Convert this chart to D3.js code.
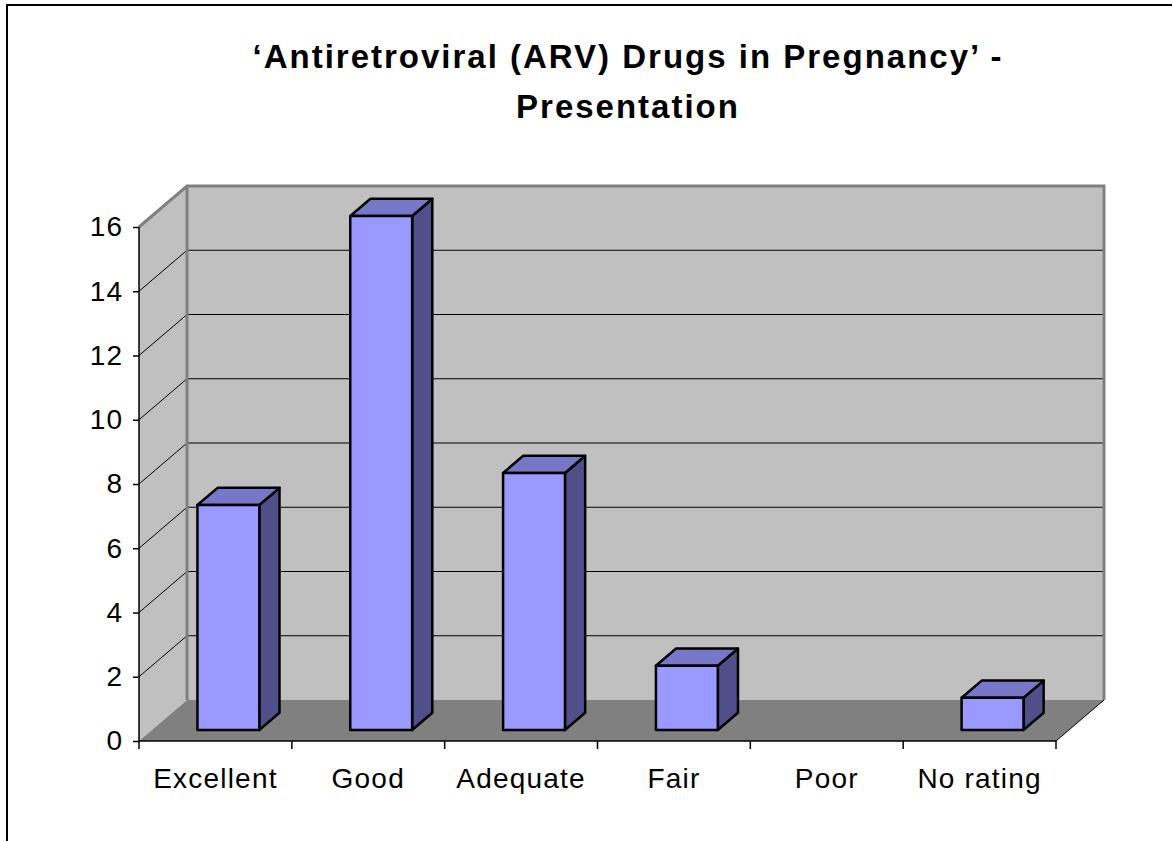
<!DOCTYPE html>
<html>
<head>
<meta charset="utf-8">
<script src="https://cdn.jsdelivr.net/npm/d3@7"></script>
<style>
  body { margin: 0; background: #fff; }
  text { font-family: Arial, "Liberation Sans", sans-serif; }
</style>
</head>
<body>
<div id="canvas"></div>
<script>
var categories = ['Excellent', 'Good', 'Adequate', 'Fair', 'Poor', 'No rating']
var counts = [7, 16, 8, 2, 0, 1]
var yTicks = [0, 2, 4, 6, 8, 10, 12, 14, 16]
var titleLines = ['\u2018Antiretroviral (ARV) Drugs in Pregnancy\u2019 -', 'Presentation']

var W = 1172, H = 841
var depth = {dx: 48, dy: -41}
var barZ = [0.27, 0.69]
var font = 'Arial, "Liberation Sans", sans-serif'

var svg = d3.select('#canvas')
  .append('svg')
    .attr('width', W)
    .attr('height', H)

// outer chart border (right / bottom run off the page)
svg.append('rect')
  .attr('x', 7).attr('y', 5)
  .attr('width', W + 20).attr('height', H + 20)
  .attr('fill', '#fff')
  .attr('stroke', '#000').attr('stroke-width', 2)

var x = d3.scaleBand().domain(categories).range([139, 1056])
var y = d3.scaleLinear().domain([0, 16]).range([741, 227])

// projection: front-plane point pushed back by depth fraction z
function P(px, v, z) {
  return [px + depth.dx * z, y(v) + depth.dy * z]
}
function poly(pts) { return 'M' + pts.map(p => p.join(',')).join('L') + 'Z' }

var x0 = x.range()[0], x1 = x.range()[1], vMax = y.domain()[1]

// side wall
svg.append('path')
  .attr('d', poly([P(x0, 0, 0), P(x0, 0, 1), P(x0, vMax, 1), P(x0, vMax, 0)]))
  .attr('fill', '#c0c0c0')
// back wall
svg.append('path')
  .attr('d', poly([P(x0, 0, 1), P(x1, 0, 1), P(x1, vMax, 1), P(x0, vMax, 1)]))
  .attr('fill', '#c0c0c0')
// floor
svg.append('path')
  .attr('d', poly([P(x0, 0, 0), P(x1, 0, 0), P(x1, 0, 1), P(x0, 0, 1)]))
  .attr('fill', '#808080')

// gridlines on side and back walls
var grid = svg.append('g').attr('stroke', '#000').attr('stroke-width', 1).attr('fill', 'none')
grid.selectAll('path')
  .data(yTicks.filter(d => d > 0 && d < vMax))
  .enter()
  .append('path')
    .attr('d', d => 'M' + P(x0, d, 0) + 'L' + P(x0, d, 1) + 'L' + P(x1, d, 1))

// wall edges
svg.append('path')
  .attr('d', 'M' + P(x0, vMax, 0) + 'L' + P(x0, vMax, 1) + 'L' + P(x1, vMax, 1) + 'L' + P(x1, 0, 1)
    + 'M' + P(x0, vMax, 1) + 'L' + P(x0, 0, 1))
  .attr('fill', 'none').attr('stroke', '#808080').attr('stroke-width', 3)
svg.append('path')
  .attr('d', 'M' + P(x1, 0, 0) + 'L' + P(x1, 0, 1))
  .attr('fill', 'none').attr('stroke', '#000').attr('stroke-width', 1)

// bars
var bw = x.bandwidth() * 0.405
var bars = svg.selectAll('g.bar')
  .data(categories.map((c, i) => ({c: c, v: counts[i]})).filter(d => d.v > 0))
  .enter()
  .append('g')
    .attr('class', 'bar')
    .attr('stroke', '#000')
    .attr('stroke-width', 2.5)
    .attr('stroke-linejoin', 'round')

function left(d) { return x(d.c) + x.bandwidth() / 2 - bw / 2 }

bars.append('path')
  .attr('fill', '#4f4f8a')
  .attr('d', d => poly([P(left(d) + bw, 0, barZ[0]), P(left(d) + bw, 0, barZ[1]),
    P(left(d) + bw, d.v, barZ[1]), P(left(d) + bw, d.v, barZ[0])]))
bars.append('path')
  .attr('fill', '#7777c8')
  .attr('d', d => poly([P(left(d), d.v, barZ[0]), P(left(d) + bw, d.v, barZ[0]),
    P(left(d) + bw, d.v, barZ[1]), P(left(d), d.v, barZ[1])]))
bars.append('path')
  .attr('fill', '#9999ff')
  .attr('d', d => poly([P(left(d), 0, barZ[0]), P(left(d) + bw, 0, barZ[0]),
    P(left(d) + bw, d.v, barZ[0]), P(left(d), d.v, barZ[0])]))

// value axis
var yAxis = svg.append('g')
  .attr('transform', 'translate(' + x0 + ',0)')
  .call(d3.axisLeft(y).tickValues(yTicks).tickSize(6).tickPadding(10))
yAxis.selectAll('text')
  .attr('font-size', 28).attr('fill', '#000')
  .style('font-family', font).style('letter-spacing', '1px')
yAxis.selectAll('line, path').attr('stroke', '#000').attr('stroke-width', 1.5)
yAxis.select('.domain').attr('d', 'M0,' + y(0) + 'V' + y(vMax))

// category axis
var xAxis = svg.append('g')
  .attr('transform', 'translate(0,' + y(0) + ')')
  .call(d3.axisBottom(x).tickSize(0).tickPadding(27))
xAxis.selectAll('text')
  .attr('font-size', 28).attr('fill', '#000')
  .style('font-family', font).style('letter-spacing', '1.2px')
xAxis.select('.domain').attr('d', 'M' + x0 + ',0H' + x1).attr('stroke', '#000').attr('stroke-width', 1.5)
xAxis.selectAll('line.sep')
  .data(d3.range(categories.length + 1))
  .enter()
  .append('line')
    .attr('class', 'sep')
    .attr('x1', i => x0 + i * x.step()).attr('x2', i => x0 + i * x.step())
    .attr('y1', 0).attr('y2', 8)
    .attr('stroke', '#000').attr('stroke-width', 1.5)

// title
svg.append('g').selectAll('text')
  .data(titleLines)
  .enter()
  .append('text')
    .attr('x', 628)
    .attr('y', (d, i) => 68 + i * 50)
    .attr('text-anchor', 'middle')
    .attr('font-size', 33)
    .attr('font-weight', 'bold')
    .style('letter-spacing', '2px')
    .text(d => d)
</script>
</body>
</html>
